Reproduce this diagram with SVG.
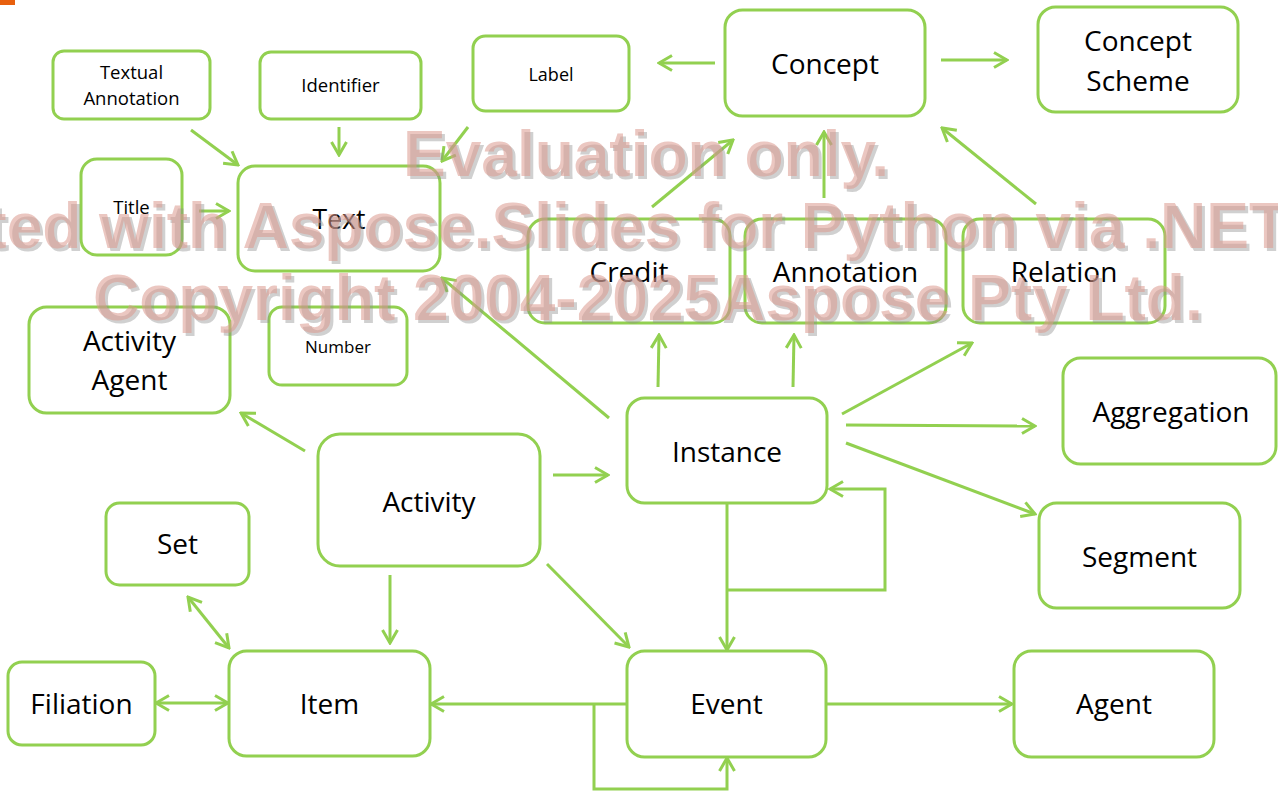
<svg xmlns="http://www.w3.org/2000/svg" width="1278" height="792" viewBox="0 0 1278 792">
  <style>
    .box { fill: #FFFFFF; stroke: #92D050; stroke-width: 3; }
    .lbl { font-family: "Open Sans", "Liberation Sans", sans-serif; fill: #000000; text-anchor: middle; }
    .big { font-size: 28px; }
    .sm { font-size: 18.5px; }
    .conn path { fill: none; stroke: #92D050; stroke-width: 3; }
    .wm { font-family: "Liberation Sans", Arial, sans-serif; font-weight: bold; font-size: 64px; }
    .wmshadow { fill: #8C8C8C; opacity: 0.4; }
    .wmtext { fill: #DC9A8F; opacity: 0.55; }
  </style>
  <defs>
    <marker id="arr" viewBox="-16 -10 18 20" refX="0" refY="0" markerWidth="18" markerHeight="20" markerUnits="userSpaceOnUse" orient="auto-start-reverse">
      <path d="M-13,-7.5 L0,0 L-13,7.5" fill="none" stroke="#92D050" stroke-width="3"/>
    </marker>
  </defs>
  <rect x="0" y="0" width="1278" height="792" fill="#FFFFFF"/>
  <rect x="0" y="0" width="15" height="5" fill="#E8600E"/>

  <g class="conn" id="connectors">
    <path d="M191,130 L238,165" marker-end="url(#arr)"/>
    <path d="M339,127 L339,155" marker-end="url(#arr)"/>
    <path d="M199,211 L229,211" marker-end="url(#arr)"/>
    <path d="M468,127 L442,161" marker-end="url(#arr)"/>
    <path d="M652,207 L733,140" marker-end="url(#arr)"/>
    <path d="M824,198 L824,132" marker-end="url(#arr)"/>
    <path d="M1036,204 L942,128" marker-end="url(#arr)"/>
    <path d="M715,63 L659,63" marker-end="url(#arr)"/>
    <path d="M941,60 L1007,60" marker-end="url(#arr)"/>
    <path d="M609,418 L442,278" marker-end="url(#arr)"/>
    <path d="M658,387 L659,335" marker-end="url(#arr)"/>
    <path d="M793,387 L794,335" marker-end="url(#arr)"/>
    <path d="M842,414 L972,343" marker-end="url(#arr)"/>
    <path d="M846,425 L1035,426" marker-end="url(#arr)"/>
    <path d="M846,443 L1035,514" marker-end="url(#arr)"/>
    <path d="M727,503 L727,650" marker-end="url(#arr)"/>
    <path d="M727,590 H885 V489 H830" marker-end="url(#arr)"/>
    <path d="M305,451 L241,413" marker-end="url(#arr)"/>
    <path d="M553,475 L608,475" marker-end="url(#arr)"/>
    <path d="M390,575 L390,643" marker-end="url(#arr)"/>
    <path d="M547,564 L629,647" marker-end="url(#arr)"/>
    <path d="M188,597 L229,648" marker-start="url(#arr)" marker-end="url(#arr)"/>
    <path d="M156,703 L228,703" marker-start="url(#arr)" marker-end="url(#arr)"/>
    <path d="M627,704 L431,704" marker-end="url(#arr)"/>
    <path d="M594,704 V789 H727 V758" marker-end="url(#arr)"/>
    <path d="M827,704 L1012,704" marker-end="url(#arr)"/>
  </g>

  <g id="textual-annotation">
    <rect class="box" x="53" y="51" width="157" height="68" rx="11"/>
    <text class="lbl sm" x="131.5" y="79">Textual</text>
    <text class="lbl sm" x="131.5" y="105">Annotation</text>
  </g>
  <g id="identifier">
    <rect class="box" x="260" y="52" width="161" height="67" rx="11"/>
    <text class="lbl sm" x="340.5" y="92">Identifier</text>
  </g>
  <g id="title">
    <rect class="box" x="81" y="159" width="101" height="96" rx="16"/>
    <text class="lbl sm" x="131.5" y="214">Title</text>
  </g>
  <g id="text">
    <rect class="box" x="238" y="166" width="202" height="105" rx="17"/>
    <text class="lbl" x="339" y="229" font-size="26.5">Text</text>
  </g>
  <g id="label">
    <rect class="box" x="473" y="36" width="156" height="75" rx="12.5"/>
    <text class="lbl" x="551" y="81" font-size="18">Label</text>
  </g>
  <g id="concept">
    <rect class="box" x="725" y="10" width="200" height="106" rx="17.5"/>
    <text class="lbl big" x="825" y="74">Concept</text>
  </g>
  <g id="concept-scheme">
    <rect class="box" x="1038" y="7" width="200" height="105" rx="17.5"/>
    <text class="lbl big" x="1138" y="51">Concept</text>
    <text class="lbl big" x="1138" y="91">Scheme</text>
  </g>
  <g id="credit">
    <rect class="box" x="528" y="219" width="202" height="104" rx="17"/>
    <text class="lbl big" x="629" y="282">Credit</text>
  </g>
  <g id="annotation">
    <rect class="box" x="745" y="219" width="201" height="104" rx="17"/>
    <text class="lbl big" x="845.5" y="282">Annotation</text>
  </g>
  <g id="relation">
    <rect class="box" x="963" y="219" width="202" height="104" rx="17"/>
    <text class="lbl big" x="1064" y="282">Relation</text>
  </g>
  <g id="activity-agent">
    <rect class="box" x="29" y="307" width="201" height="106" rx="17.5"/>
    <text class="lbl big" x="129.5" y="351">Activity</text>
    <text class="lbl big" x="129.5" y="390">Agent</text>
  </g>
  <g id="number">
    <rect class="box" x="269" y="307" width="138" height="78" rx="13"/>
    <text class="lbl" x="338" y="353" font-size="17">Number</text>
  </g>
  <g id="activity">
    <rect class="box" x="318" y="434" width="222" height="132" rx="22"/>
    <text class="lbl big" x="429" y="512">Activity</text>
  </g>
  <g id="instance">
    <rect class="box" x="627" y="398" width="200" height="105" rx="17.5"/>
    <text class="lbl big" x="727" y="462">Instance</text>
  </g>
  <g id="aggregation">
    <rect class="box" x="1063" y="358" width="213" height="106" rx="17.5"/>
    <text class="lbl big" x="1171" y="422">Aggregation</text>
  </g>
  <g id="segment">
    <rect class="box" x="1039" y="503" width="201" height="105" rx="17.5"/>
    <text class="lbl big" x="1139.5" y="567">Segment</text>
  </g>
  <g id="set">
    <rect class="box" x="106" y="503" width="143" height="82" rx="13.5"/>
    <text class="lbl big" x="177.5" y="554">Set</text>
  </g>
  <g id="filiation">
    <rect class="box" x="8" y="662" width="147" height="83" rx="14"/>
    <text class="lbl big" x="81.5" y="714">Filiation</text>
  </g>
  <g id="item">
    <rect class="box" x="229" y="651" width="201" height="105" rx="17.5"/>
    <text class="lbl big" x="329.5" y="714">Item</text>
  </g>
  <g id="event">
    <rect class="box" x="627" y="651" width="199" height="106" rx="17.5"/>
    <text class="lbl big" x="726.5" y="714">Event</text>
  </g>
  <g id="agent">
    <rect class="box" x="1014" y="651" width="200" height="106" rx="17.5"/>
    <text class="lbl big" x="1114" y="714">Agent</text>
  </g>

  <g id="watermark" class="wm">
    <g class="wmshadow" transform="translate(3,3)">
      <text x="403" y="176">Evaluation only.</text>
      <text x="-157" y="248">Created with Aspose.Slides for Python via .NET.</text>
      <text x="93" y="320">Copyright 2004-2025Aspose Pty Ltd.</text>
    </g>
    <g class="wmtext">
      <text x="403" y="176">Evaluation only.</text>
      <text x="-157" y="248">Created with Aspose.Slides for Python via .NET.</text>
      <text x="93" y="320">Copyright 2004-2025Aspose Pty Ltd.</text>
    </g>
  </g>
</svg>
